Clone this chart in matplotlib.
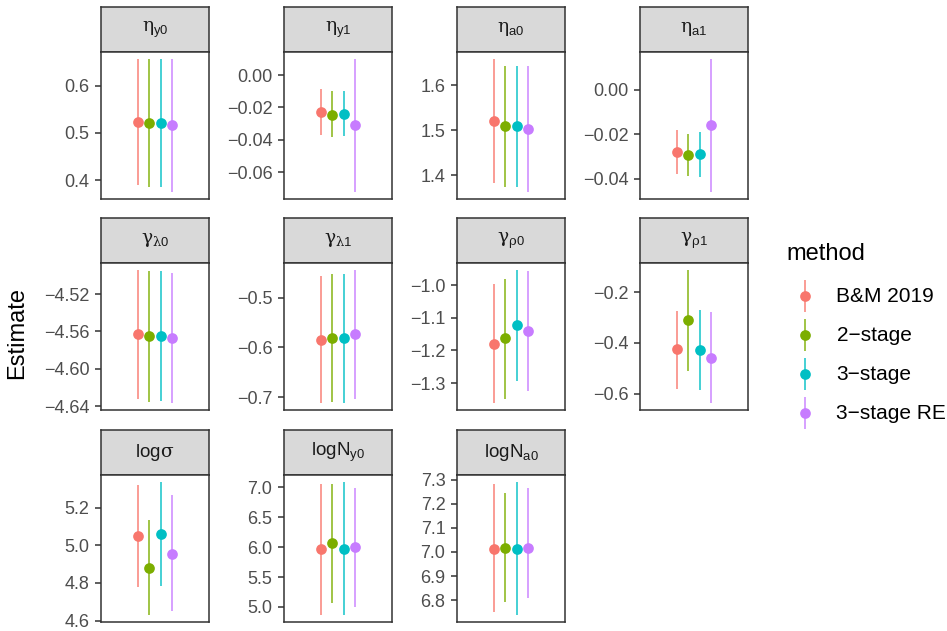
import matplotlib
matplotlib.use("Agg")
import matplotlib.pyplot as plt

plt.rcParams['font.family'] = ['Liberation Sans', 'DejaVu Sans']
plt.rcParams['mathtext.fontset'] = 'custom'
plt.rcParams['mathtext.rm'] = 'Liberation Sans'
plt.rcParams['mathtext.it'] = 'Liberation Sans:italic'
plt.rcParams['mathtext.sf'] = 'DejaVu Serif'

# ---------------- datos ----------------
methods = ["B&M 2019", "2\u2212stage", "3\u2212stage", "3\u2212stage RE"]
colors = ["#F8766D", "#7CAE00", "#00BFC4", "#C77CFF"]

params = [
    r'$\mathsf{\eta}_{\mathrm{y0}}$', r'$\mathsf{\eta}_{\mathrm{y1}}$',
    r'$\mathsf{\eta}_{\mathrm{a0}}$', r'$\mathsf{\eta}_{\mathrm{a1}}$',
    r'$\mathsf{\gamma}_{\mathsf{\lambda}\mathrm{0}}$', r'$\mathsf{\gamma}_{\mathsf{\lambda}\mathrm{1}}$',
    r'$\mathsf{\gamma}_{\mathsf{\rho}\mathrm{0}}$', r'$\mathsf{\gamma}_{\mathsf{\rho}\mathrm{1}}$',
    r'$\mathrm{log}\mathsf{\sigma}$', r'$\mathrm{logN}_{\mathrm{y0}}$', r'$\mathrm{logN}_{\mathrm{a0}}$',
]

# estimaciones e intervalos (orden de params)
est_bm = [0.523, -0.0231, 1.521, -0.0282, -4.5632, -0.584, -1.1796, -0.425, 5.049, 5.962, 7.012]
lo_bm = [0.390, -0.0371, 1.383, -0.0380, -4.6326, -0.7126, -1.3616, -0.5822, 4.776, 4.872, 6.749]
hi_bm = [0.657, -0.0089, 1.659, -0.0181, -4.4940, -0.456, -0.998, -0.274, 5.321, 7.056, 7.284]

est_2s = [0.521, -0.0246, 1.509, -0.0293, -4.5653, -0.5813, -1.1634, -0.311, 4.882, 6.061, 7.016]
lo_2s = [0.386, -0.0385, 1.373, -0.0387, -4.6350, -0.7106, -1.347, -0.5105, 4.628, 5.066, 6.794]
hi_2s = [0.657, -0.0101, 1.643, -0.0197, -4.4952, -0.4513, -0.9805, -0.1117, 5.135, 7.045, 7.246]

est_3s = [0.521, -0.0240, 1.509, -0.0291, -4.5653, -0.5813, -1.1229, -0.4277, 5.061, 5.972, 7.012]
lo_3s = [0.386, -0.0379, 1.373, -0.0391, -4.6347, -0.711, -1.2936, -0.5834, 4.784, 4.861, 6.737]
hi_3s = [0.657, -0.0101, 1.643, -0.0191, -4.4952, -0.4513, -0.953, -0.2714, 5.338, 7.090, 7.292]

est_re = [0.516, -0.0309, 1.503, -0.0160, -4.5675, -0.5733, -1.139, -0.4607, 4.956, 5.995, 7.016]
lo_re = [0.374, -0.0725, 1.362, -0.0461, -4.6368, -0.7046, -1.323, -0.6375, 4.651, 5.005, 6.807]
hi_re = [0.656, 0.0101, 1.642, 0.0139, -4.4974, -0.4433, -0.957, -0.2792, 5.267, 6.990, 7.266]

estimates = [est_bm, est_2s, est_3s, est_re]
lowers = [lo_bm, lo_2s, lo_3s, lo_re]
uppers = [hi_bm, hi_2s, hi_3s, hi_re]

# marcas del eje y por panel
yticks = [
    [0.4, 0.5, 0.6], [-0.06, -0.04, -0.02, 0.00], [1.4, 1.5, 1.6], [-0.04, -0.02, 0.00],
    [-4.64, -4.60, -4.56, -4.52], [-0.7, -0.6, -0.5], [-1.3, -1.2, -1.1, -1.0], [-0.6, -0.4, -0.2],
    [4.6, 4.8, 5.0, 5.2], [5.0, 5.5, 6.0, 6.5, 7.0], [6.8, 6.9, 7.0, 7.1, 7.2, 7.3],
]
ydecimals = [1, 2, 1, 2, 2, 1, 1, 1, 1, 1, 1]

# ---------------- layout (pixeles) ----------------
W, H = 947, 631
col_left = [101, 284, 457, 640]
panel_w = 108
row_strip_top = [7, 218, 430]
strip_h = 45
panel_h = 147

BORDER = "#333333"


def fig_box(x, y_top, w, h):
    return [x / W, 1 - (y_top + h) / H, w / W, h / H]


fig = plt.figure(figsize=(W / 100, H / 100), dpi=100)

for k, label in enumerate(params):
    r, c = divmod(k, 4)
    x0 = col_left[c]
    y0 = row_strip_top[r]

    # tira del facet
    sax = fig.add_axes(fig_box(x0, y0, panel_w, strip_h))
    sax.set_facecolor("#D9D9D9")
    sax.set_xticks([])
    sax.set_yticks([])
    for sp in sax.spines.values():
        sp.set_color(BORDER)
        sp.set_linewidth(1.1)
    sax.text(0.5, 0.5, label, ha="center", va="center", fontsize=13.5,
             color="#1A1A1A", transform=sax.transAxes)

    ax = fig.add_axes(fig_box(x0, y0 + strip_h, panel_w, panel_h))
    for i in range(len(methods)):
        xpos = 1 + (i - 1.5) * 0.125
        ax.vlines(xpos, lowers[i][k], uppers[i][k], color=colors[i], lw=1.2, alpha=0.85)
        ax.plot(xpos, estimates[i][k], "o", color=colors[i], ms=7.7, mec="none")
    ax.set_xlim(0.4, 1.6)
    ax.margins(y=0.05)
    ax.set_xticks([])
    ax.set_yticks(yticks[k])
    d = ydecimals[k]
    ax.set_yticklabels([f"{v:.{d}f}".replace("-", "\u2212") for v in yticks[k]])
    ax.tick_params(axis="y", direction="out", length=4, width=1.1, color=BORDER,
                   labelcolor="#4D4D4D", labelsize=13, pad=4.3)
    for sp in ax.spines.values():
        sp.set_color(BORDER)
        sp.set_linewidth(1.1)

# etiqueta eje y
fig.text(17.5 / W, 1 - 333 / H, "Estimate", rotation=90, ha="center", va="center", fontsize=17)

# leyenda manual
fig.text(786 / W, 1 - 254 / H, "method", ha="left", va="center", fontsize=17)
key_y = [296, 335.3, 374.3, 413.3]
lax = fig.add_axes([0, 0, 1, 1], facecolor="none")
lax.set_xlim(0, W)
lax.set_ylim(H, 0)
lax.axis("off")
for i, m in enumerate(methods):
    lax.vlines(805, key_y[i] - 16, key_y[i] + 16, color=colors[i], lw=1.2, alpha=0.85)
    lax.plot(805, key_y[i], "o", color=colors[i], ms=7.7, mec="none")
    lax.text(836.5, key_y[i], m, ha="left", va="center", fontsize=15)

fig.savefig("out.png", dpi=100)
